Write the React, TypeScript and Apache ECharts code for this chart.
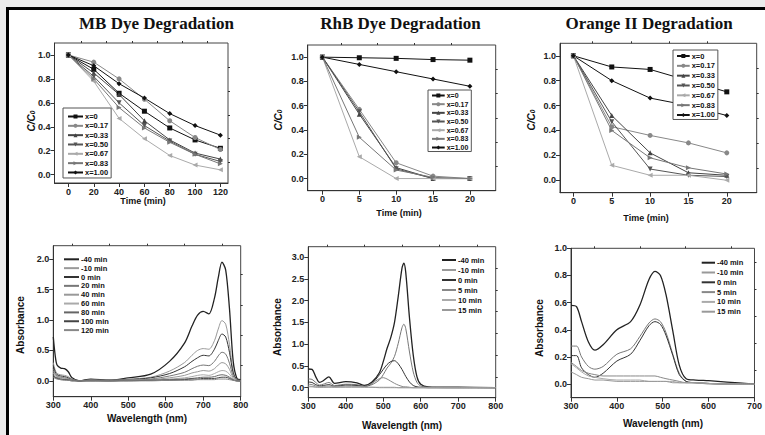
import React, { useEffect, useRef } from 'react';
import * as echarts from 'echarts';

// ---------- data ----------
const ratioNames = ['x=0', 'x=0.17', 'x=0.33', 'x=0.50', 'x=0.67', 'x=0.83', 'x=1.00'];

const mbTime = [0, 20, 40, 60, 80, 100, 120];
const mbX0 = [1.0, 0.88, 0.68, 0.53, 0.39, 0.29, 0.22];
const mbX017 = [1.0, 0.94, 0.80, 0.63, 0.45, 0.31, 0.21];
const mbX033 = [1.0, 0.85, 0.67, 0.45, 0.29, 0.18, 0.13];
const mbX050 = [1.0, 0.82, 0.60, 0.41, 0.28, 0.17, 0.11];
const mbX067 = [1.0, 0.78, 0.47, 0.30, 0.16, 0.08, 0.04];
const mbX083 = [1.0, 0.80, 0.56, 0.39, 0.27, 0.17, 0.09];
const mbX100 = [1.0, 0.91, 0.76, 0.64, 0.51, 0.41, 0.33];

const rhbTime = [0, 5, 10, 15, 20];
const rhbX0 = [1.0, 0.995, 0.99, 0.98, 0.975];
const rhbX017 = [1.0, 0.57, 0.13, 0.02, 0.0];
const rhbX033 = [1.0, 0.53, 0.09, 0.0, 0.0];
const rhbX050 = [1.0, 0.55, 0.08, 0.0, 0.0];
const rhbX067 = [1.0, 0.18, 0.0, 0.0, 0.0];
const rhbX083 = [1.0, 0.34, 0.07, 0.01, 0.0];
const rhbX100 = [1.0, 0.94, 0.88, 0.82, 0.76];

const oiiTime = [0, 5, 10, 15, 20];
const oiiX0 = [1.0, 0.91, 0.89, 0.80, 0.71];
const oiiX017 = [1.0, 0.43, 0.36, 0.30, 0.22];
const oiiX033 = [1.0, 0.52, 0.22, 0.06, 0.04];
const oiiX050 = [1.0, 0.47, 0.09, 0.04, 0.03];
const oiiX067 = [1.0, 0.12, 0.04, 0.04, 0.0];
const oiiX083 = [1.0, 0.40, 0.18, 0.10, 0.05];
const oiiX100 = [1.0, 0.80, 0.66, 0.60, 0.52];

const mbNames = ['-40 min', '-10 min', '0 min', '20 min', '40 min', '60 min', '80 min', '100 min', '120 min'];
const mbWave = [300, 305, 310, 320, 330, 340, 350, 370, 400, 450, 500, 560, 610, 650, 670, 685, 700, 715, 730, 740, 750, 760, 770, 780, 790, 800];
const mbM40 = [0.72, 0.42, 0.26, 0.21, 0.20, 0.15, 0.05, 0.0, 0.03, 0.01, 0.05, 0.11, 0.32, 0.62, 0.90, 1.08, 1.14, 1.10, 1.36, 1.69, 1.95, 1.82, 1.19, 0.32, 0.04, 0.02];
const mbM10 = [0.30, 0.18, 0.12, 0.10, 0.09, 0.07, 0.03, 0.0, 0.02, 0.01, 0.03, 0.06, 0.16, 0.30, 0.42, 0.50, 0.53, 0.52, 0.66, 0.85, 0.99, 0.93, 0.60, 0.16, 0.02, 0.01];
const mbT0 = [0.25, 0.15, 0.10, 0.08, 0.07, 0.05, 0.02, 0.0, 0.02, 0.01, 0.02, 0.05, 0.12, 0.23, 0.32, 0.38, 0.42, 0.41, 0.52, 0.66, 0.77, 0.72, 0.47, 0.13, 0.02, 0.01];
const mbT20 = [0.20, 0.12, 0.08, 0.06, 0.05, 0.04, 0.02, 0.0, 0.01, 0.01, 0.02, 0.03, 0.08, 0.14, 0.20, 0.24, 0.26, 0.25, 0.32, 0.41, 0.47, 0.44, 0.29, 0.08, 0.01, 0.0];
const mbT40 = [0.16, 0.10, 0.07, 0.05, 0.04, 0.03, 0.01, 0.0, 0.01, 0.0, 0.01, 0.02, 0.05, 0.09, 0.13, 0.15, 0.17, 0.16, 0.20, 0.26, 0.30, 0.28, 0.19, 0.05, 0.01, 0.0];
const mbT60 = [0.13, 0.08, 0.06, 0.04, 0.03, 0.02, 0.01, 0.0, 0.01, 0.0, 0.01, 0.01, 0.03, 0.05, 0.07, 0.09, 0.10, 0.09, 0.12, 0.15, 0.17, 0.16, 0.11, 0.03, 0.0, 0.0];
const mbT80 = [0.10, 0.06, 0.05, 0.03, 0.02, 0.02, 0.01, 0.0, 0.0, 0.0, 0.01, 0.01, 0.02, 0.03, 0.04, 0.05, 0.06, 0.06, 0.07, 0.09, 0.10, 0.09, 0.06, 0.02, 0.0, 0.0];
const mbT100 = [0.08, 0.05, 0.04, 0.02, 0.02, 0.01, 0.0, 0.0, 0.0, 0.0, 0.0, 0.01, 0.01, 0.02, 0.03, 0.03, 0.04, 0.04, 0.04, 0.05, 0.06, 0.06, 0.04, 0.01, 0.0, 0.0];
const mbT120 = [0.06, 0.04, 0.03, 0.02, 0.01, 0.01, 0.0, 0.0, 0.0, 0.0, 0.0, 0.0, 0.01, 0.01, 0.01, 0.02, 0.02, 0.02, 0.02, 0.03, 0.03, 0.03, 0.02, 0.01, 0.0, 0.0];

const shortNames = ['-40 min', '-10 min', '0 min', '5 min', '10 min', '15 min'];
const rhbWave = [300, 310, 320, 330, 340, 355, 370, 400, 430, 450, 470, 490, 500, 510, 520, 530, 540, 550, 555, 560, 570, 580, 590, 600, 620, 700, 800];
const rhbM40 = [0.43, 0.42, 0.25, 0.12, 0.16, 0.25, 0.10, 0.14, 0.11, 0.05, 0.13, 0.35, 0.60, 0.90, 1.15, 1.50, 2.10, 2.75, 2.86, 2.65, 1.60, 0.75, 0.25, 0.08, 0.02, 0.01, 0.0];
const rhbM10 = [0.20, 0.19, 0.12, 0.06, 0.08, 0.12, 0.05, 0.08, 0.07, 0.03, 0.07, 0.18, 0.30, 0.45, 0.56, 0.72, 1.02, 1.38, 1.46, 1.36, 0.82, 0.36, 0.12, 0.04, 0.01, 0.0, 0.0];
const rhbT0 = [0.13, 0.12, 0.07, 0.04, 0.05, 0.07, 0.03, 0.06, 0.05, 0.03, 0.10, 0.30, 0.42, 0.53, 0.60, 0.62, 0.55, 0.42, 0.34, 0.26, 0.13, 0.05, 0.02, 0.01, 0.0, 0.0, 0.0];
const rhbT5 = [0.08, 0.07, 0.04, 0.02, 0.03, 0.04, 0.02, 0.04, 0.03, 0.03, 0.10, 0.21, 0.23, 0.20, 0.15, 0.10, 0.06, 0.03, 0.02, 0.02, 0.01, 0.0, 0.0, 0.0, 0.0, 0.0, 0.0];
const rhbT10 = [0.04, 0.03, 0.02, 0.01, 0.01, 0.02, 0.01, 0.02, 0.02, 0.01, 0.01, 0.01, 0.01, 0.01, 0.01, 0.01, 0.0, 0.0, 0.0, 0.0, 0.0, 0.0, 0.0, 0.0, 0.0, 0.0, 0.0];
const rhbT15 = [0.02, 0.02, 0.01, 0.01, 0.01, 0.01, 0.01, 0.01, 0.01, 0.01, 0.01, 0.0, 0.0, 0.0, 0.0, 0.0, 0.0, 0.0, 0.0, 0.0, 0.0, 0.0, 0.0, 0.0, 0.0, 0.0, 0.0];

const oiiWave = [300, 312, 323, 338, 352, 370, 400, 430, 450, 470, 483, 495, 507, 522, 536, 551, 572, 600, 640, 700];
const oiiM40 = [0.58, 0.57, 0.46, 0.31, 0.25, 0.29, 0.40, 0.46, 0.58, 0.77, 0.83, 0.80, 0.66, 0.39, 0.14, 0.04, 0.03, 0.025, 0.015, 0.0];
const oiiM10 = [0.28, 0.28, 0.20, 0.13, 0.11, 0.13, 0.22, 0.26, 0.35, 0.45, 0.48, 0.46, 0.38, 0.22, 0.08, 0.02, 0.01, 0.005, 0.0, 0.0];
const oiiT0 = [0.21, 0.21, 0.12, 0.07, 0.05, 0.08, 0.17, 0.22, 0.32, 0.43, 0.46, 0.44, 0.36, 0.21, 0.07, 0.02, 0.01, 0.005, 0.0, 0.0];
const oiiT5 = [0.16, 0.13, 0.10, 0.08, 0.07, 0.06, 0.06, 0.06, 0.06, 0.06, 0.06, 0.05, 0.04, 0.03, 0.02, 0.01, 0.01, 0.005, 0.0, 0.0];
const oiiT10 = [0.15, 0.12, 0.09, 0.06, 0.05, 0.04, 0.03, 0.03, 0.03, 0.02, 0.02, 0.02, 0.02, 0.02, 0.01, 0.01, 0.01, 0.005, 0.0, 0.0];
const oiiT15 = [0.09, 0.07, 0.05, 0.04, 0.03, 0.03, 0.02, 0.02, 0.02, 0.02, 0.02, 0.02, 0.02, 0.01, 0.01, 0.01, 0.01, 0.0, 0.0, 0.0];

// tick labels
const timeTicksMB = [0, 20, 40, 60, 80, 100, 120];
const timeTicks20 = [0, 5, 10, 15, 20];
const ratioTicks = [0, 0.2, 0.4, 0.6, 0.8, 1.0];
const waveTicks800 = [300, 400, 500, 600, 700, 800];
const waveTicks700 = [300, 400, 500, 600, 700];
const absTicksMB = [0, 0.5, 1.0, 1.5, 2.0];
const absTicksRhB = [0, 0.5, 1.0, 1.5, 2.0, 2.5, 3.0];
const absTicksOII = [0, 0.2, 0.4, 0.6, 0.8, 1.0];

// ---------- styles ----------
const SANS = '"Liberation Sans", Arial, sans-serif';
const ratioColors = ['#111', '#888', '#444', '#555', '#aaa', '#777', '#111'];
const ratioSymbols = ['rect', 'circle', 'triangle', 'triangle', 'triangle', 'triangle', 'diamond'];
const ratioRotate = [0, 0, 0, 180, 90, -90, 0];
const mbColors = ['#222', '#999', '#333', '#777', '#999', '#aaa', '#666', '#444', '#888'];
const shortColors = ['#222', '#777', '#333', '#888', '#aaa', '#999'];

const grids = [
  { left: 54.5, top: 43, width: 173.5, height: 140 },
  { left: 307.7, top: 45, width: 188, height: 145.7 },
  { left: 560, top: 43.3, width: 196.7, height: 149.4 },
  { left: 53.3, top: 245.7, width: 187.4, height: 151 },
  { left: 308.3, top: 246.7, width: 187.4, height: 151 },
  { left: 571, top: 248.3, width: 184.7, height: 149.4 },
];
const xRanges = [[-11, 126], [-2, 23.5], [-1.75, 23.9], [300, 800], [300, 800], [300, 700]];
const yRanges = [[-0.07, 1.1], [-0.1, 1.1], [-0.1, 1.1], [-0.26, 2.22], [-0.23, 3.24], [-0.1, 1.0]];
const xTicks = [timeTicksMB, timeTicks20, timeTicks20, waveTicks800, waveTicks800, waveTicks700];
const yTicks = [ratioTicks, ratioTicks, ratioTicks, absTicksMB, absTicksRhB, absTicksOII];

const mids = (t: number[]) => t.slice(1).map((v, i) => (v + t[i]) / 2);

function mainAxis(i: number, isX: boolean) {
  const r = isX ? xRanges[i] : yRanges[i];
  const ticks = isX ? xTicks[i] : yTicks[i];
  return {
    type: 'value',
    gridIndex: i,
    min: r[0],
    max: r[1],
    axisLine: { show: true, onZero: false, lineStyle: { color: '#333', width: 1 } },
    axisTick: { show: true, length: 4, customValues: ticks, lineStyle: { color: '#333', width: 1 } },
    axisLabel: {
      show: true,
      customValues: ticks,
      fontSize: 9,
      fontWeight: 'bold',
      fontFamily: SANS,
      color: '#222',
      margin: 4,
      formatter: (v: number) => (isX ? String(Math.round(v)) : v.toFixed(1)),
    },
    splitLine: { show: false },
  };
}
function minorAxis(i: number, isX: boolean) {
  const r = isX ? xRanges[i] : yRanges[i];
  const ticks = isX ? xTicks[i] : yTicks[i];
  return {
    type: 'value',
    gridIndex: i,
    min: r[0],
    max: r[1],
    axisLine: { show: false, onZero: false },
    axisTick: { show: true, length: 2, customValues: mids(ticks), lineStyle: { color: '#333', width: 1 } },
    axisLabel: { show: false },
    splitLine: { show: false },
  };
}

function ratioSeries(panel: number, xs: number[], ys: number[][]) {
  return ys.map((arr, k) => ({
    type: 'line',
    name: ratioNames[k],
    xAxisIndex: panel,
    yAxisIndex: panel,
    data: xs.map((x, j) => [x, arr[j]]),
    symbol: ratioSymbols[k],
    symbolRotate: ratioRotate[k],
    symbolSize: 5,
    lineStyle: { color: ratioColors[k], width: 1 },
    itemStyle: { color: ratioColors[k] },
    z: 3,
  }));
}
function specSeries(panel: number, names: string[], colors: string[], xs: number[], ys: number[][]) {
  return ys.map((arr, k) => ({
    type: 'line',
    name: names[k],
    xAxisIndex: panel,
    yAxisIndex: panel,
    data: xs.map((x, j) => [x, arr[j]]),
    symbol: 'none',
    smooth: 0.3,
    lineStyle: { color: colors[k], width: k === 0 ? 1.3 : 1 },
    itemStyle: { color: colors[k] },
    z: 3,
  }));
}

function legendBox(names: string[], left: number, top: number, itemWidth: number, itemHeight: number, gap: number, fontSize: number, boxed: boolean, pad: number[]) {
  return {
    show: true,
    data: names,
    orient: 'vertical',
    align: 'left',
    left,
    top,
    itemWidth,
    itemHeight,
    itemGap: gap,
    padding: pad,
    backgroundColor: boxed ? '#fff' : 'transparent',
    borderColor: boxed ? '#555' : 'transparent',
    borderWidth: boxed ? 1 : 0,
    selectedMode: false,
    itemStyle: boxed ? {} : { opacity: 0 },
    textStyle: { fontSize, lineHeight: 7, fontWeight: 'bold', fontFamily: SANS, color: '#111', padding: [0, 0, 0, -3] },
    z: 10,
  };
}

function txt(text: string, x: number, y: number, font: string, rotate = 0) {
  return {
    type: 'text',
    x,
    y,
    rotation: rotate,
    z: 100,
    style: { text, font, fill: '#111', align: 'center', verticalAlign: 'middle', textAlign: 'center', textVerticalAlign: 'middle' },
  };
}
function ccLabel(x: number, y: number) {
  return {
    type: 'text',
    x,
    y,
    rotation: Math.PI / 2,
    z: 100,
    style: {
      text: '{i|C/C}{s|0}',
      fill: '#111',
      align: 'center',
      verticalAlign: 'middle',
      textAlign: 'center',
      textVerticalAlign: 'middle',
      rich: {
        i: { fontSize: 10, fontStyle: 'italic', fontWeight: 'bold', fontFamily: SANS, fill: '#111', lineHeight: 12, verticalAlign: 'bottom' },
        s: { fontSize: 6.5, fontStyle: 'italic', fontWeight: 'bold', fontFamily: SANS, fill: '#111', lineHeight: 7, verticalAlign: 'bottom' },
      },
    },
  };
}

export default function App() {
  const ref = useRef<HTMLDivElement>(null);
  useEffect(() => {
    if (!ref.current) return;
    const chart = echarts.init(ref.current, null, { renderer: 'svg' });
    const xAxis: any[] = [];
    const yAxis: any[] = [];
    for (let i = 0; i < 6; i++) { xAxis.push(mainAxis(i, true)); yAxis.push(mainAxis(i, false)); }
    for (let i = 0; i < 6; i++) { xAxis.push(minorAxis(i, true)); yAxis.push(minorAxis(i, false)); }

    const series = [
      ...ratioSeries(0, mbTime, [mbX0, mbX017, mbX033, mbX050, mbX067, mbX083, mbX100]),
      ...ratioSeries(1, rhbTime, [rhbX0, rhbX017, rhbX033, rhbX050, rhbX067, rhbX083, rhbX100]),
      ...ratioSeries(2, oiiTime, [oiiX0, oiiX017, oiiX033, oiiX050, oiiX067, oiiX083, oiiX100]),
      ...specSeries(3, mbNames, mbColors, mbWave, [mbM40, mbM10, mbT0, mbT20, mbT40, mbT60, mbT80, mbT100, mbT120]),
      ...specSeries(4, shortNames, shortColors, rhbWave, [rhbM40, rhbM10, rhbT0, rhbT5, rhbT10, rhbT15]),
      ...specSeries(5, shortNames, shortColors, oiiWave, [oiiM40, oiiM10, oiiT0, oiiT5, oiiT10, oiiT15]),
    ];

    const serifBold = 'bold 17px "Liberation Serif", "Times New Roman", serif';
    const axisFont = `bold 9px ${SANS}`;
    const axisFontB = `bold 10px ${SANS}`;

    chart.setOption({
      animation: false,
      backgroundColor: '#ebebeb',
      grid: grids.map((g) => ({ ...g, show: true, borderColor: '#444', borderWidth: 1, backgroundColor: 'transparent', containLabel: false })),
      xAxis,
      yAxis,
      legend: [
        legendBox(ratioNames, 63, 108, 15, 5, 1.33, 7.5, true, [4.5, 3, 1.5, 4]),
        legendBox(ratioNames, 428, 90, 12.7, 5, 1.67, 7, true, [2, 3, 0.5, 3]),
        legendBox(ratioNames, 673, 50, 12.7, 5, 1.83, 7.5, true, [2, 3, 0.5, 3]),
        legendBox(mbNames, 63, 255.3, 15, 7, 0.85, 7.5, false, [0, 0, 0, 0]),
        legendBox(shortNames, 441, 256, 14, 7, 2, 7.5, false, [0, 0, 0, 0]),
        legendBox(shortNames, 700.7, 258.7, 13.3, 7, 1.8, 7.5, false, [0, 0, 0, 0]),
      ],
      graphic: [
        { type: 'rect', z: -10, shape: { x: 9, y: 10, width: 756, height: 425 }, style: { fill: '#fff' } },
        { type: 'rect', z: -9, shape: { x: 6, y: 7, width: 759, height: 3 }, style: { fill: '#000' } },
        { type: 'rect', z: -9, shape: { x: 6, y: 7, width: 3, height: 428 }, style: { fill: '#000' } },
        txt('MB Dye Degradation', 156.5, 23.5, serifBold),
        txt('RhB Dye Degradation', 400.5, 23.5, serifBold),
        txt('Orange II Degradation', 649, 23.5, serifBold),
        txt('Time (min)', 143, 201, axisFont),
        txt('Time (min)', 399, 213, axisFont),
        txt('Time (min)', 646, 218, axisFont),
        ccLabel(30, 121),
        ccLabel(277, 120),
        ccLabel(530, 120),
        txt('Wavelength (nm)', 147, 418, axisFontB),
        txt('Wavelength (nm)', 402, 425, axisFontB),
        txt('Wavelength (nm)', 663, 423, axisFontB),
        txt('Absorbance', 20, 325, axisFontB, Math.PI / 2),
        txt('Absorbance', 277, 327, axisFontB, Math.PI / 2),
        txt('Absorbance', 539, 328, axisFontB, Math.PI / 2),
      ],
      series,
    });
    return () => chart.dispose();
  }, []);
  return <div ref={ref} style={{ position: 'absolute', left: 0, top: 0, width: 765, height: 435 }} />;
}
